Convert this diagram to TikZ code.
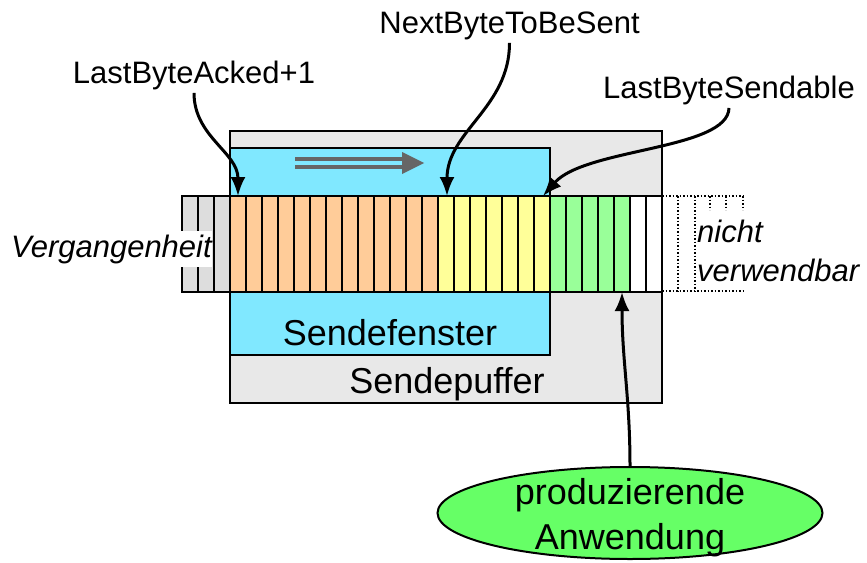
\documentclass[tikz,border=0pt]{standalone}
\usepackage{fontspec}
\setmainfont{Liberation Sans}
\usetikzlibrary{arrows.meta,shapes.geometric}

\definecolor{bufgray}{HTML}{E8E8E8}
\definecolor{wincyan}{HTML}{80E8FF}
\definecolor{ackorange}{HTML}{FFCC99}
\definecolor{sentyellow}{HTML}{FFFF99}
\definecolor{freegreen}{HTML}{99FF99}
\definecolor{oldgray}{HTML}{DDDDDD}
\definecolor{appgreen}{HTML}{66FF66}
\definecolor{movegray}{HTML}{666666}

\begin{document}
\begin{tikzpicture}[x=1pt,y=-1pt,
  ptrtext/.style={font=\fontsize{31}{36}\selectfont,anchor=base},
  bigtext/.style={font=\fontsize{36}{45}\selectfont},
  pointer/.style={-{Latex[length=19pt,width=15pt]},line width=3pt},
  cell/.style={draw,line width=2pt},
  appnode/.style={ellipse,draw,line width=2pt,fill=appgreen,minimum width=385pt,minimum height=92pt,inner sep=0pt}]
\useasboundingbox (0,0) rectangle (867,562);

% buffer and window
\draw[fill=bufgray,line width=2.5pt] (230,131) rectangle (662,403);
\draw[fill=wincyan,line width=2.5pt] (230,148) rectangle (550,355);
\node[bigtext,anchor=base] (puffer) at (447,393) {Sendepuffer};
\node[bigtext,anchor=base] (fenster) at (390,345) {Sendefenster};

% window moves to the right
\draw[movegray,line width=4pt] (295,159) -- (404,159) (295,167) -- (404,167);
\fill[movegray] (402,152) -- (424,163) -- (402,174) -- cycle;

% the bytes, 16 wide each
\foreach \i in {0,1,2} % edit here for the old bytes
\draw[cell,fill=oldgray] (182+16*\i,196) rectangle ++(16,96);
\foreach \i in {0,...,12} % sent, not yet acked
\draw[cell,fill=ackorange] (230+16*\i,196) rectangle ++(16,96);
\foreach \i in {0,...,6} % may be sent now
\draw[cell,fill=sentyellow] (438+16*\i,196) rectangle ++(16,96);
\foreach \i in {0,...,4} % written, outside the window
\draw[cell,fill=freegreen] (550+16*\i,196) rectangle ++(16,96);
\foreach \i in {0,1} % free buffer
\draw[cell,fill=white] (630+16*\i,196) rectangle ++(16,96);
\draw[dotted,line width=1.5pt] (662,196) -- (743,196) (662,291) -- (743,291)
  (678,196) -- (678,291) (695,196) -- (695,291);
\foreach \x in {710,726,743}
\draw[dotted,line width=1.5pt] (\x,196) -- (\x,210);

\node[ptrtext,font=\fontsize{31}{36}\selectfont\itshape,fill=white,inner xsep=0pt,inner ysep=4pt] (past) at (111.5,257) {Vergangenheit};
\node[font=\fontsize{31}{39}\selectfont\itshape,align=left,anchor=west,inner sep=0pt] (unused) at (697,251) {nicht\\verwendbar};

% pointer labels
\node[ptrtext] (acked) at (194,83) {LastByteAcked+1};
\node[ptrtext] (nextsent) at (509.5,33) {NextByteToBeSent};
\node[ptrtext] (sendable) at (729,98) {LastByteSendable};

\coordinate (ackptr) at (238,196);
\coordinate (nextptr) at (447,196);
\coordinate (sendptr) at (543,196);
\coordinate (appptr) at (622,292);

\draw[pointer] (acked.south) to[out=-90,in=90] (ackptr);
\draw[pointer] (nextsent.south) to[out=-90,in=90] (nextptr);
\draw[pointer] (sendable.south) .. controls (728,150) and (585,148) .. (sendptr);

% the application writing into the buffer
\node[appnode] (app) at (630,513) {};
\node[bigtext,align=center] (apptext) at (630,518) {produzierende\\Anwendung};
\draw[pointer] (app.north) to[out=90,in=-90] (appptr);
\end{tikzpicture}
\end{document}
